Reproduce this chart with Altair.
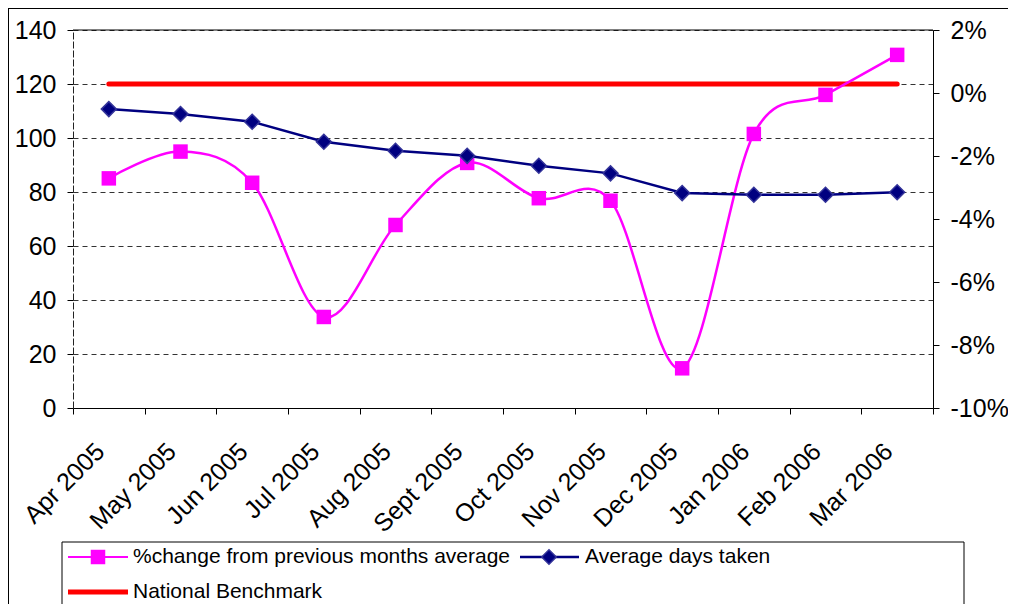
import altair as alt
import pandas as pd

months = ["Apr 2005", "May 2005", "Jun 2005", "Jul 2005", "Aug 2005", "Sept 2005",
          "Oct 2005", "Nov 2005", "Dec 2005", "Jan 2006", "Feb 2006", "Mar 2006"]
pct_change = [-2.71, -1.86, -2.85, -7.11, -4.19, -2.22, -3.34, -3.42, -8.74, -1.30, -0.06, 1.21]
avg_days = [110.7, 108.9, 106.0, 98.6, 95.3, 93.4, 89.7, 86.9, 79.6, 79.0, 79.0, 79.9]
benchmark = [120, 120, 120, 120, 120, 120, 120, 120, 120, 120, 120, 120]
left_ticks = [0, 20, 40, 60, 80, 100, 120, 140]
right_ticks = [-10, -8, -6, -4, -2, 0, 2]

s_pct = "%change from previous months average"
s_days = "Average days taken"
s_bench = "National Benchmark"

df = pd.DataFrame({"month": months, "pct": pct_change, "days": avg_days, "bench": benchmark})
one = pd.DataFrame({"k": [0]})

W, H = 860, 378
FONT = "Liberation Sans"
MAG = "#ff00ff"
NAVY = "#000080"
RED = "#ff0000"
FS = 25

x = alt.X("month:N", sort=months,
          scale=alt.Scale(type="band", paddingInner=0, paddingOuter=0),
          axis=alt.Axis(title=None, labelAngle=-45, labelAlign="right", labelBaseline="middle",
                        labelFontSize=FS, labelFont=FONT, labelColor="black", labelPadding=33,
                        labelOffset=-9, tickBand="extent", tickSize=6, tickColor="black",
                        domainColor="black", grid=False, labelOverlap=False))

left_axis = alt.Axis(title=None, orient="left", values=left_ticks, labelFontSize=FS,
                     labelFont=FONT, labelColor="black", labelPadding=11, tickSize=6,
                     tickColor="black", domainColor="#222222", domainDash=[7, 2],
                     grid=True, gridDash=[5, 4], gridColor="#333333", gridWidth=1)
left_scale = alt.Scale(domain=[0, 140], nice=False, zero=True)

red = alt.Chart(df).mark_line(color=RED, strokeWidth=5, strokeCap="round").encode(
    x=x, y=alt.Y("bench:Q", scale=left_scale, axis=left_axis))

right_scale = alt.Scale(domain=[-10, 2], nice=False, zero=False)
right_axis = alt.Axis(title=None, orient="right", values=right_ticks,
                      labelExpr="datum.value + '%'", labelFontSize=FS, labelFont=FONT,
                      labelColor="black", labelPadding=11, tickSize=6, tickColor="black",
                      domainColor="black", grid=False)
mag_line = alt.Chart(df).mark_line(color=MAG, strokeWidth=2.5, interpolate="cardinal").encode(
    x=x, y=alt.Y("pct:Q", scale=right_scale, axis=right_axis))
mag_pts = alt.Chart(df).mark_point(shape="square", filled=True, size=210, color=MAG, opacity=1).encode(
    x=x, y=alt.Y("pct:Q", scale=right_scale, axis=right_axis))
mag = alt.layer(mag_line, mag_pts)

navy_line = alt.Chart(df).mark_line(color=NAVY, strokeWidth=2.5).encode(
    x=x, y=alt.Y("days:Q", scale=left_scale, axis=None))
navy_pts = alt.Chart(df).mark_point(shape="diamond", filled=True, size=225, fill=NAVY,
                                    stroke="#333399", strokeWidth=1.5, opacity=1).encode(
    x=x, y=alt.Y("days:Q", scale=left_scale, axis=None))
navy = alt.layer(navy_line, navy_pts)

def rule(x1, x2, y1, y2, color="black", w=1):
    return alt.Chart(one).mark_rule(color=color, strokeWidth=w).encode(
        x=alt.value(x1), x2=alt.value(x2), y=alt.value(y1), y2=alt.value(y2))

def label(txt, xx, yy):
    return alt.Chart(one).mark_text(align="left", baseline="middle", font=FONT, fontSize=21,
                                    color="black").encode(
        x=alt.value(xx), y=alt.value(yy), text=alt.value(txt))

top_border = rule(0, W, 0, 0)
outer_top = rule(-65, 935, -21.5, -21.5)
outer_left = rule(-64.5, -64.5, -22, 600)

legend_box = alt.Chart(one).mark_rect(fill="transparent", stroke="black", strokeWidth=1).encode(
    x=alt.value(-11), x2=alt.value(891), y=alt.value(512), y2=alt.value(600))

lg_mag_line = rule(-5, 55, 527, 527, MAG, 2)
lg_mag_pt = alt.Chart(one).mark_point(shape="square", filled=True, size=210, color=MAG, opacity=1).encode(
    x=alt.value(25), y=alt.value(527))
lg_mag_txt = label(s_pct, 60, 527)
lg_navy_line = rule(447, 506, 527, 527, NAVY, 2.5)
lg_navy_pt = alt.Chart(one).mark_point(shape="diamond", filled=True, size=210, fill=NAVY,
                                       stroke="#333399", strokeWidth=1.5, opacity=1).encode(
    x=alt.value(476), y=alt.value(527))
lg_navy_txt = label(s_days, 512, 527)
lg_red_line = rule(-5, 55, 562, 562, RED, 5)
lg_red_txt = label(s_bench, 60, 562)

deco = alt.layer(top_border, outer_top, outer_left, legend_box, lg_mag_line, lg_mag_pt, lg_mag_txt,
                 lg_navy_line, lg_navy_pt, lg_navy_txt, lg_red_line, lg_red_txt)

chart = alt.layer(red, mag, navy, deco).resolve_scale(y="independent").properties(
    width=W, height=H,
    padding={"left": 65, "top": 22, "right": 75, "bottom": 196},
    autosize=alt.AutoSizeParams(type="none"),
    background="white",
).configure_view(stroke="transparent")

chart.save("out.html", embed_options={"renderer": "svg", "actions": False})
